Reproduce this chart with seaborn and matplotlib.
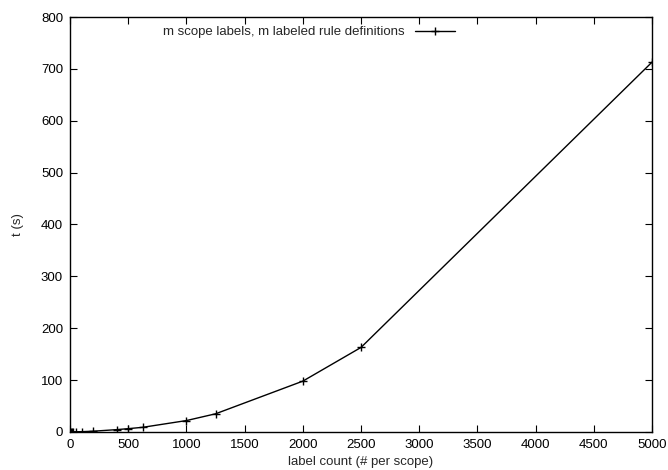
import pandas as pd
import numpy as np
import seaborn as sns
import matplotlib
matplotlib.use("Agg")
import matplotlib.pyplot as plt

# label count per scope vs runtime in seconds
label_count = [5, 20, 25, 50, 100, 200, 400, 500, 625, 1000, 1250, 2000, 2500, 5000]
runtime_s = [0.1, 0.2, 0.3, 0.4, 0.6, 1.5, 4.5, 6.4, 9, 22, 35, 98, 163, 713]
series_name = "m scope labels, m labeled rule definitions"

x_ticks = list(range(0, 5001, 500))
y_ticks = list(range(0, 801, 100))

df = pd.DataFrame({"label count": label_count, "t": runtime_s, "series": series_name})

sns.set_style("ticks")
plt.rcParams["font.family"] = ["Liberation Sans", "DejaVu Sans"]
plt.rcParams["font.size"] = 9.5

fig = plt.figure(figsize=(6.68, 4.70), dpi=100)
ax = fig.add_axes([0.1048, 0.0809, 0.8713, 0.8829])

sns.lineplot(data=df, x="label count", y="t", hue="series", palette=["black"],
             marker="+", markersize=6, markeredgewidth=1, linewidth=1,
             markeredgecolor="black", ax=ax)

ax.set_xlim(0, 5000)
ax.set_ylim(0, 800)
ax.set_xticks(x_ticks)
ax.set_yticks(y_ticks)
ax.tick_params(direction="in", top=True, right=True, length=5, width=0.8,
               labelsize=9.5, colors="black", pad=5)
for s in ax.spines.values():
    s.set_linewidth(1)
    s.set_color("black")
    s.set_visible(True)

ax.set_xlabel("label count (# per scope)", fontsize=9.5, labelpad=4)
ax.set_ylabel("t (s)", fontsize=9.5, labelpad=12)

ax.legend(loc="upper center", bbox_to_anchor=(0.41, 1.0), frameon=False,
          markerfirst=False, fontsize=9.5, handlelength=3, borderaxespad=0.3)

fig.savefig("out.png", dpi=100)
